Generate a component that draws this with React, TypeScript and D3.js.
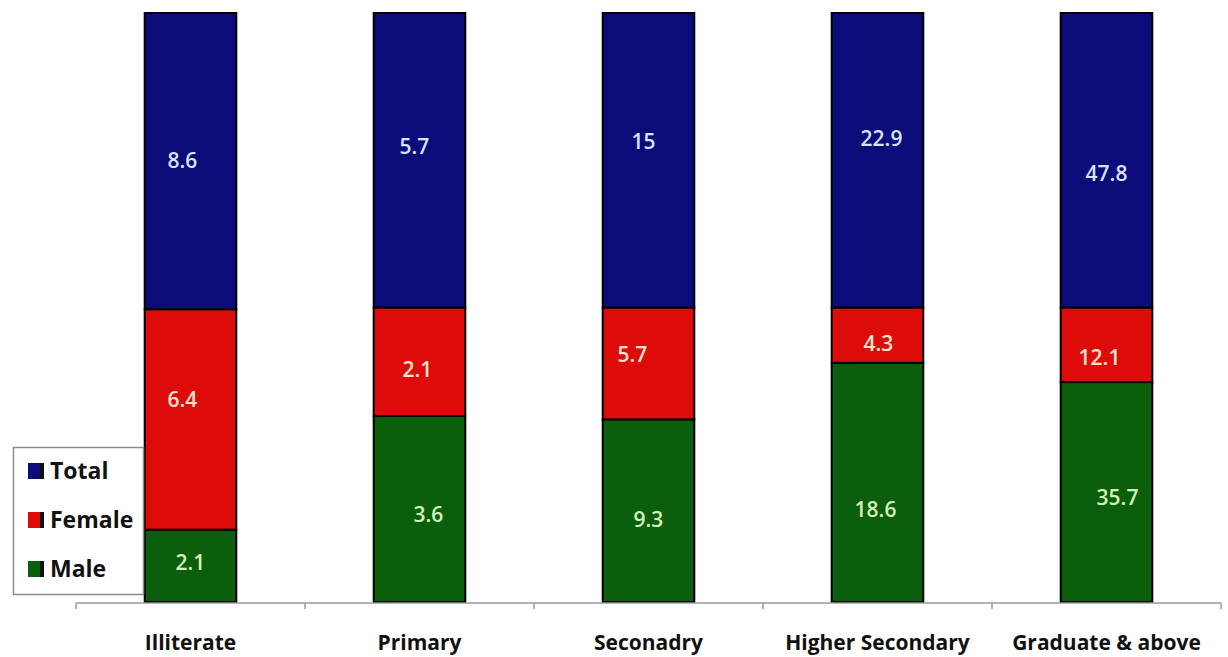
import React from "react";
import * as d3 from "d3";

// Education level categories and counts per group
const categories = ["Illiterate", "Primary", "Seconadry", "Higher Secondary", "Graduate & above"];
const maleValues = [2.1, 3.6, 9.3, 18.6, 35.7];
const femaleValues = [6.4, 2.1, 5.7, 4.3, 12.1];
const totalValues = [8.6, 5.7, 15, 22.9, 47.8];

// Stack order from bottom to top
const seriesKeys = ["Male", "Female", "Total"];
const legendOrder = ["Total", "Female", "Male"];

const COLORS: Record<string, string> = {
  Male: "#0b5e0b",
  Female: "#de0b0b",
  Total: "#0b0b7a",
};
const LABEL_COLORS: Record<string, string> = {
  Male: "#d4f2bc",
  Female: "#ffe6cc",
  Total: "#d6e4ff",
};

// Hand-placed label nudges (dx, dy) from each segment's centre
const labelNudge: Record<string, [number, number][]> = {
  Male: [[0, -3], [9, 6], [0, 9], [-2, 27], [11, 6]],
  Female: [[-8, -20], [-2, 8], [-16, -9], [1, 9], [-7, 13]],
  Total: [[-8, 0], [-5, -14], [-5, -19], [4, -22], [0, 13]],
};

const W = 1228;
const H = 657;
const plot = { left: 76, right: 1221, top: 13, bottom: 602 };

export default function App() {
  const rows = categories.map((c, i) => ({
    category: c,
    Male: maleValues[i],
    Female: femaleValues[i],
    Total: totalValues[i],
  }));

  const stacked = d3
    .stack<any>()
    .keys(seriesKeys)
    .offset(d3.stackOffsetExpand)(rows);

  const x = d3
    .scaleBand<string>()
    .domain(categories)
    .range([plot.left, plot.right])
    .paddingInner(0.6)
    .paddingOuter(0.3);

  const y = d3.scaleLinear().domain([0, 1]).range([plot.bottom, plot.top]);

  const step = x.step();
  const tickXs = d3.range(categories.length + 1).map((i) => plot.left + i * step);

  const font = "'Open Sans', 'Noto Sans', sans-serif";

  return (
    <svg
      width={W}
      height={H}
      style={{ position: "absolute", left: 0, top: 0, background: "#fff" }}
      fontFamily={font}
    >
      <rect x={0} y={0} width={W} height={H} fill="#fff" />

      {/* stacked segments */}
      {stacked.map((layer) => (
        <g key={layer.key}>
          {layer.map((d, i) => (
            <rect
              key={i}
              x={x(categories[i])!}
              y={y(d[1])}
              width={x.bandwidth()}
              height={y(d[0]) - y(d[1])}
              fill={COLORS[layer.key]}
              stroke="#000"
              strokeWidth={2}
            />
          ))}
        </g>
      ))}

      {/* value labels */}
      {stacked.map((layer) => (
        <g key={"lbl-" + layer.key}>
          {layer.map((d, i) => {
            const [dx, dy] = labelNudge[layer.key][i];
            const cx = x(categories[i])! + x.bandwidth() / 2 + dx;
            const cy = (y(d[0]) + y(d[1])) / 2 + dy;
            const v = (d.data as any)[layer.key] as number;
            return (
              <text
                key={i}
                x={cx}
                y={cy}
                dy="0.35em"
                textAnchor="middle"
                fontSize={21}
                fontWeight={600}
                fill={LABEL_COLORS[layer.key]}
              >
                {String(v)}
              </text>
            );
          })}
        </g>
      ))}

      {/* category axis */}
      <line x1={plot.left} x2={plot.right} y1={603} y2={603} stroke="#9a9a9a" strokeWidth={1.5} />
      {tickXs.map((tx, i) => (
        <line key={i} x1={tx} x2={tx} y1={603} y2={609} stroke="#9a9a9a" strokeWidth={1.5} />
      ))}
      {categories.map((c) => (
        <text
          key={c}
          x={x(c)! + x.bandwidth() / 2}
          y={650}
          textAnchor="middle"
          fontSize={21}
          fontWeight={700}
          fill="#111"
        >
          {c}
        </text>
      ))}

      {/* legend */}
      <g>
        <rect x={13.5} y={447.5} width={130} height={147} fill="#fff" stroke="#8c8c8c" strokeWidth={1.5} />
        {legendOrder.map((k, i) => {
          const cy = 471 + i * 49;
          return (
            <g key={k}>
              <rect x={28} y={cy - 8} width={12} height={16} fill={COLORS[k]} />
              <rect x={40} y={cy - 8} width={4} height={16} fill="#111" />
              <text x={50} y={cy} dy="0.36em" fontSize={23} fontWeight={700} fill="#111">
                {k}
              </text>
            </g>
          );
        })}
      </g>
    </svg>
  );
}
